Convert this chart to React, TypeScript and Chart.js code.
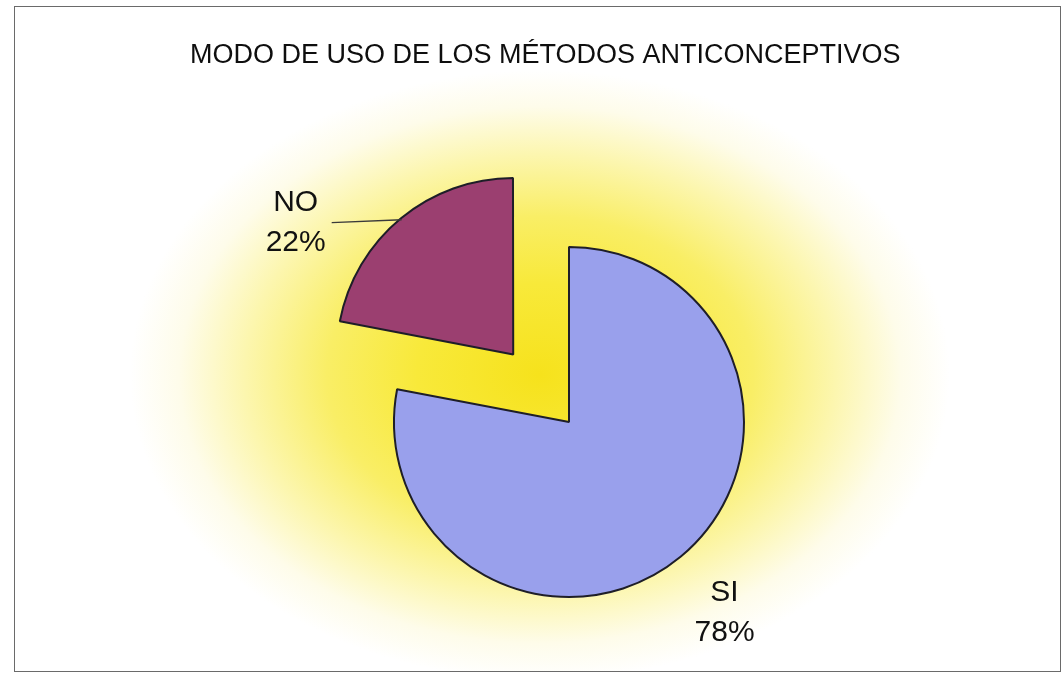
import React, { useEffect, useRef } from "react";
import { Chart, registerables } from "chart.js";

Chart.register(...registerables);

const TITLE = "MODO DE USO DE LOS MÉTODOS ANTICONCEPTIVOS";
const categories = ["SI", "NO"];
const percentages = [78, 22];
const sliceColors = ["#99a0ec", "#9b3f70"];
const sliceOffsets = [0, 350];
const labelNudges: [number, number][] = [
  [0, 0],
  [-62, 53],
];
const leaderLines = [false, true];

const FONT = '"Liberation Sans", Arial, Helvetica, sans-serif';

const backgroundPlugin = {
  id: "sheetBackground",
  beforeDraw(chart: any) {
    const ctx = chart.ctx as CanvasRenderingContext2D;
    const W = chart.width;
    const H = chart.height;
    ctx.save();
    ctx.fillStyle = "#ffffff";
    ctx.fillRect(0, 0, W, H);
    const fx = 14, fy = 6, fw = 1047, fh = 666;
    ctx.beginPath();
    ctx.rect(fx, fy, fw, fh);
    ctx.clip();
    const cx = 540, cy = 375, rx = 410, ry = 305;
    ctx.translate(cx, cy);
    ctx.scale(1, ry / rx);
    const g = ctx.createRadialGradient(0, 0, 0, 0, 0, rx);
    g.addColorStop(0, "#f6e21c");
    g.addColorStop(0.3, "#f8e93a");
    g.addColorStop(0.52, "#f9ee66");
    g.addColorStop(0.72, "#fcf6ae");
    g.addColorStop(0.88, "#fefcea");
    g.addColorStop(1, "#ffffff");
    ctx.fillStyle = g;
    ctx.fillRect(-rx - 20, -rx - 20, 2 * rx + 40, 2 * rx + 40);
    ctx.restore();
    ctx.save();
    ctx.strokeStyle = "#6a6a6a";
    ctx.lineWidth = 1;
    ctx.strokeRect(fx + 0.5, fy + 0.5, fw - 1, fh - 1);
    ctx.restore();
  },
};

const labelPlugin = {
  id: "sliceLabels",
  afterDatasetsDraw(chart: any) {
    const ctx = chart.ctx as CanvasRenderingContext2D;
    const meta = chart.getDatasetMeta(0);
    const ds = chart.data.datasets[0];
    meta.data.forEach((arc: any, i: number) => {
      const p = arc.getProps(["x", "y", "startAngle", "endAngle", "outerRadius"], true);
      const mid = (p.startAngle + p.endAngle) / 2;
      const off = ((ds.offset && ds.offset[i]) || 0) / 4;
      const cx = p.x + Math.cos(mid) * off;
      const cy = p.y + Math.sin(mid) * off;
      const dist = p.outerRadius + 69;
      const lx = cx + Math.cos(mid) * dist + labelNudges[i][0];
      const ly = cy + Math.sin(mid) * dist + labelNudges[i][1];
      const value = ds.data[i];
      ctx.save();
      if (leaderLines[i]) {
        const ex = cx + Math.cos(mid) * p.outerRadius;
        const ey = cy + Math.sin(mid) * p.outerRadius;
        ctx.strokeStyle = "#3a3a3a";
        ctx.lineWidth = 1.3;
        ctx.beginPath();
        ctx.moveTo(lx + 36, ly + 3);
        ctx.lineTo(ex, ey);
        ctx.stroke();
      }
      ctx.fillStyle = "#111111";
      ctx.font = `30px ${FONT}`;
      ctx.textAlign = "center";
      ctx.textBaseline = "alphabetic";
      ctx.fillText(String(chart.data.labels[i]), lx, ly - 9);
      ctx.fillText(`${value}%`, lx, ly + 31);
      ctx.restore();
    });
  },
};

export default function App() {
  const ref = useRef<HTMLCanvasElement | null>(null);
  useEffect(() => {
    if (!ref.current) return;
    const chart = new Chart(ref.current, {
      type: "pie",
      data: {
        labels: categories,
        datasets: [
          {
            data: percentages,
            backgroundColor: sliceColors,
            borderColor: "#1e1e28",
            borderWidth: 2,
            offset: sliceOffsets,
            hoverOffset: 0,
            clip: false,
          } as any,
        ],
      },
      options: {
        responsive: false,
        animation: false,
        radius: 175,
        layout: { padding: { left: 190, right: 115, top: 39, bottom: 0 } },
        plugins: {
          legend: { display: false },
          tooltip: { enabled: false },
          title: {
            display: true,
            text: TITLE,
            align: "start",
            color: "#0e0e0e",
            font: { family: FONT, size: 27, weight: "normal" },
            padding: { top: 0, bottom: 96.6 },
          },
        },
      } as any,
      plugins: [backgroundPlugin, labelPlugin],
    });
    return () => chart.destroy();
  }, []);
  return (
    <div style={{ position: "fixed", left: 0, top: 0, width: 1063, height: 676, background: "#fff" }}>
      <canvas ref={ref} width={1063} height={676} style={{ display: "block", width: 1063, height: 676 }} />
    </div>
  );
}
